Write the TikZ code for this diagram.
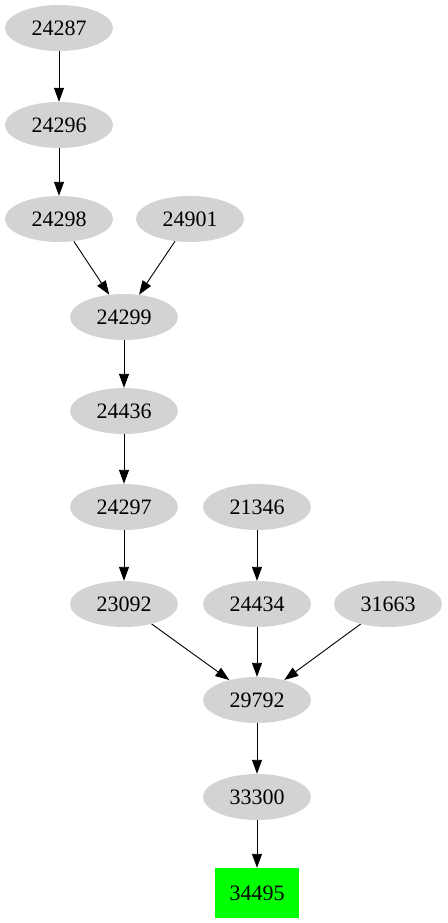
\documentclass[tikz,border=0pt]{standalone}
\usepackage{fontspec}
\setmainfont{Liberation Serif}
\usetikzlibrary{shapes.geometric,arrows.meta}
\definecolor{nodegray}{HTML}{D3D3D3}
\definecolor{boxgreen}{HTML}{00FF00}
\tikzset{
  gnode/.style={ellipse, fill=nodegray, minimum width=108pt, minimum height=46pt, inner sep=0pt, font=\fontsize{22}{24}\selectfont},
  gbox/.style={rectangle, fill=boxgreen, minimum width=84pt, minimum height=50pt, inner sep=0pt, font=\fontsize{22}{24}\selectfont},
  edge/.style={draw=black, line width=0.9pt, -{Triangle[length=14pt,width=10pt]}}
}
\begin{document}
\begin{tikzpicture}[x=1pt,y=-1pt]
\useasboundingbox (0,0) rectangle (447,923);
\node[gnode] (n24287) at (59,28) {24287};
\node[gnode] (n24296) at (59,125) {24296};
\node[gnode] (n24298) at (59,219) {24298};
\node[gnode] (n24901) at (190,219) {24901};
\node[gnode] (n24299) at (124,317) {24299};
\node[gnode] (n24436) at (124,411) {24436};
\node[gnode] (n24297) at (124,507) {24297};
\node[gnode] (n21346) at (257,507) {21346};
\node[gnode] (n23092) at (124,604) {23092};
\node[gnode] (n24434) at (257,604) {24434};
\node[gnode] (n31663) at (388,604) {31663};
\node[gnode] (n29792) at (257,700) {29792};
\node[gnode] (n33300) at (257,797) {33300};
\node[gbox] (n34495) at (257,893) {34495};
\draw[edge] (n24287) -- (n24296);
\draw[edge] (n24296) -- (n24298);
\draw[edge] (n24298) -- (n24299);
\draw[edge] (n24901) -- (n24299);
\draw[edge] (n24299) -- (n24436);
\draw[edge] (n24436) -- (n24297);
\draw[edge] (n24297) -- (n23092);
\draw[edge] (n21346) -- (n24434);
\draw[edge] (n23092) -- (n29792);
\draw[edge] (n24434) -- (n29792);
\draw[edge] (n31663) -- (n29792);
\draw[edge] (n29792) -- (n33300);
\draw[edge] (n33300) -- (n34495);
\end{tikzpicture}
\end{document}
